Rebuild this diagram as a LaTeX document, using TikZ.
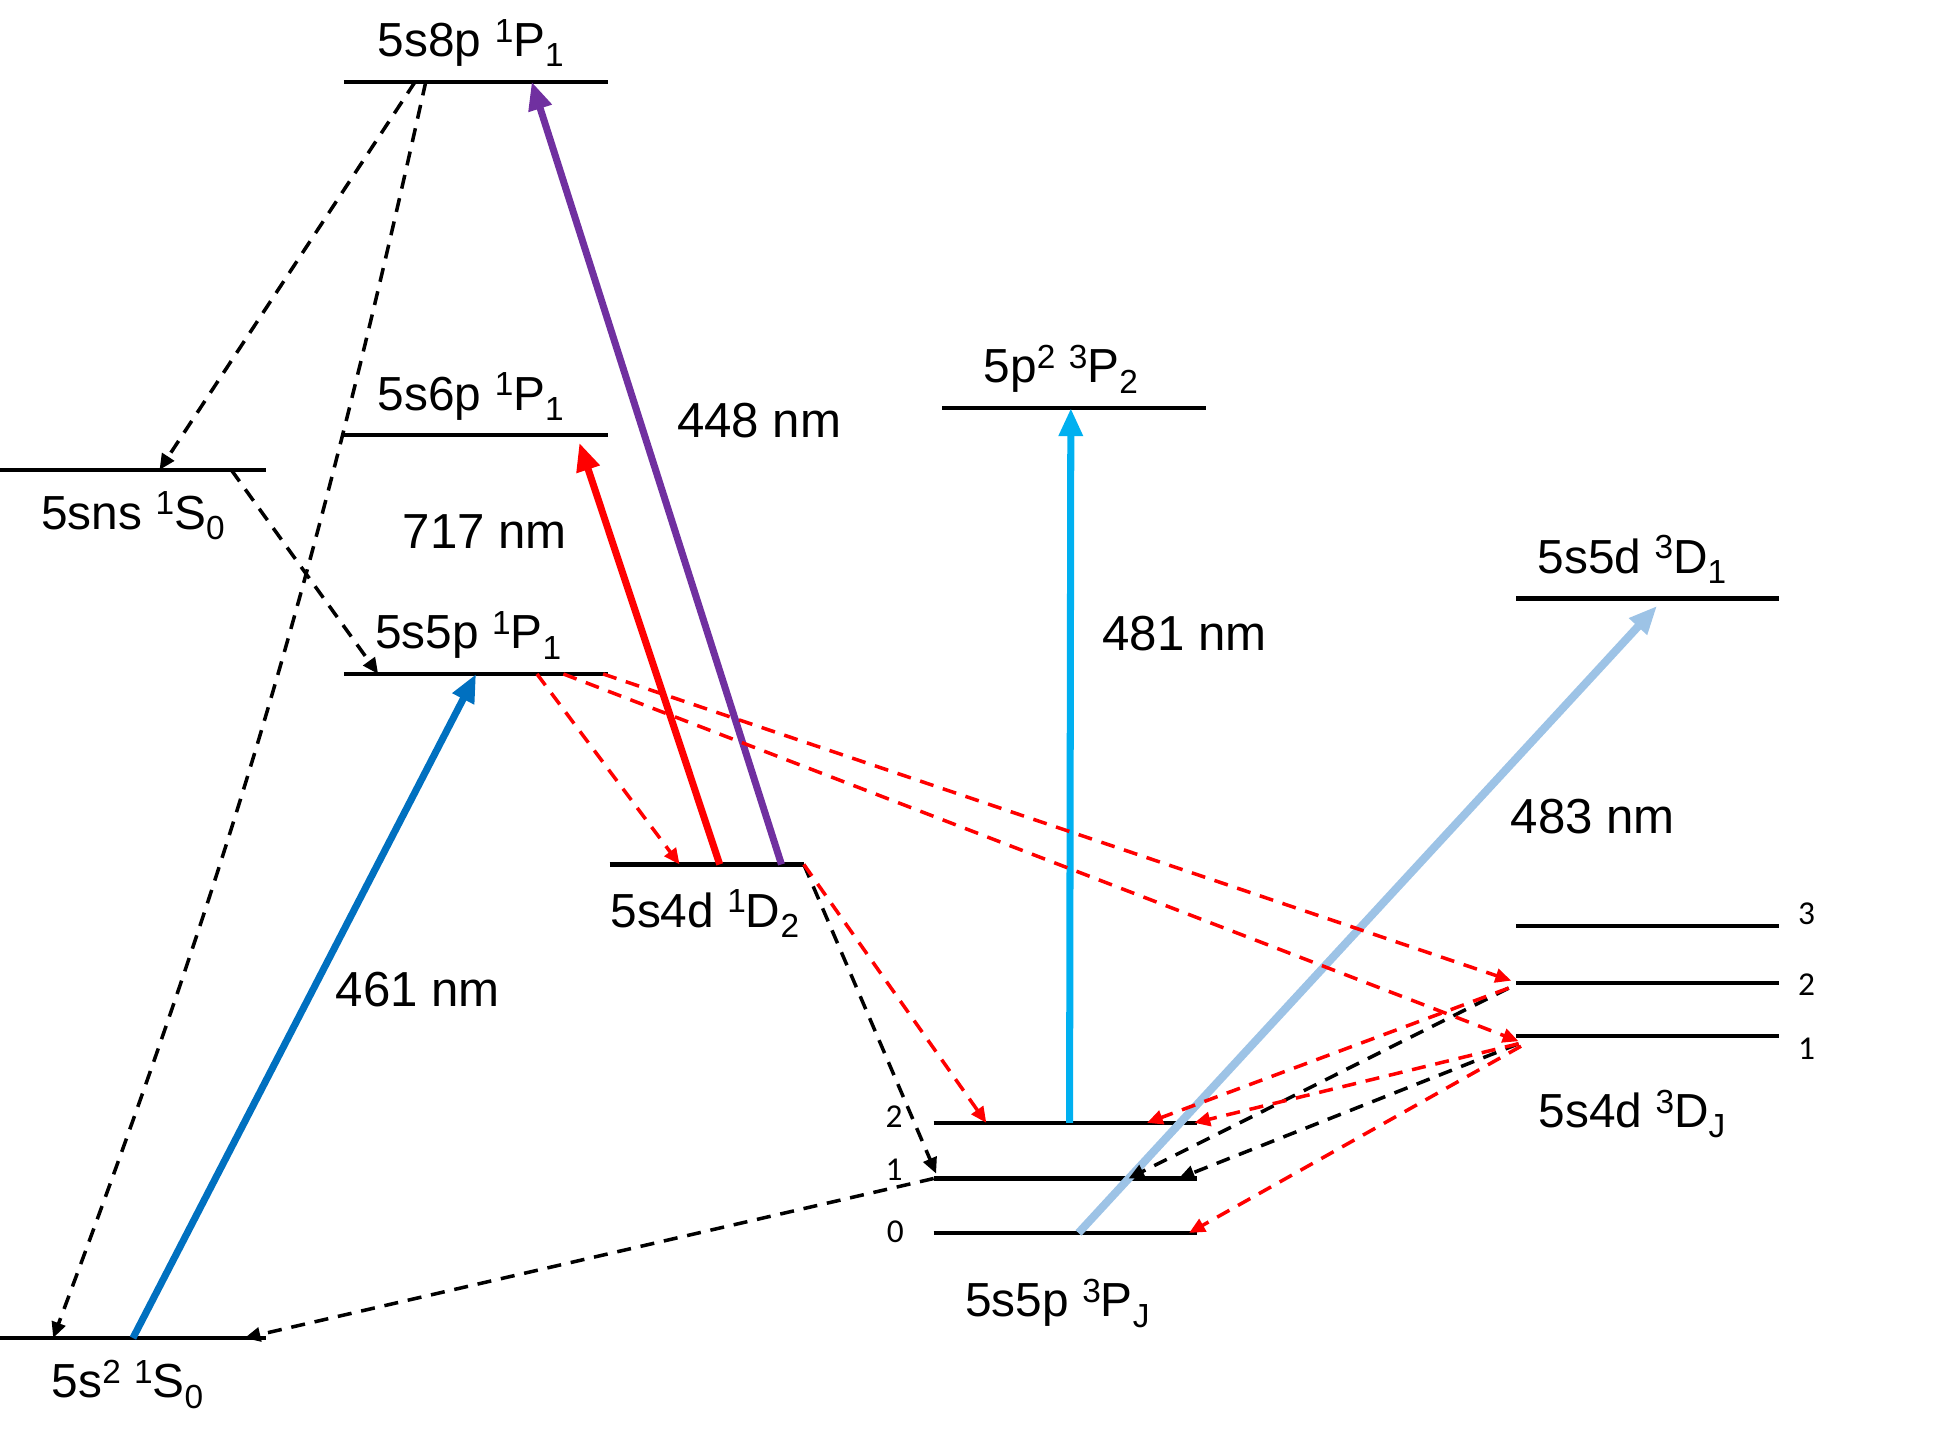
\documentclass[tikz,border=0pt]{standalone}
\usepackage{fontspec}
\setmainfont{Liberation Sans}
\newfontfamily\jfont{Carlito}
\usetikzlibrary{arrows.meta,calc}

\definecolor{c461}{RGB}{0,112,192}
\definecolor{c717}{RGB}{255,0,0}
\definecolor{c448}{RGB}{112,48,160}
\definecolor{c481}{RGB}{0,176,240}
\definecolor{c483}{RGB}{157,195,230}

\newcommand{\ssup}[1]{\raisebox{0.3em}{\fontsize{9.5}{10}\selectfont #1}}
\newcommand{\ssub}[1]{\raisebox{-0.22em}{\fontsize{9.5}{10}\selectfont #1}}

\tikzset{
  level/.style={line width=1.2pt},
  laser/.style={line width=2pt, -{Triangle[length=8pt,width=6.5pt]}},
  decay/.style={line width=1pt, dash pattern=on 4pt off 2.8pt, -{Triangle[length=4.5pt,width=4pt]}},
  lbl/.style={font=\fontsize{13.6}{16}\selectfont, inner sep=1pt},
  wl/.style={font=\fontsize{14}{16}\selectfont},
  jnum/.style={font=\jfont\fontsize{9.5}{11}\selectfont, inner sep=0pt},
}

\begin{document}
\begin{tikzpicture}[x=0.12366mm, y=-0.12366mm]
\useasboundingbox (0,0) rectangle (1568,1160);

% levels
\coordinate (gs-l) at (0,1082);   \coordinate (gs-r) at (215,1082);
\coordinate (ns-l) at (0,380);    \coordinate (ns-r) at (215,380);
\coordinate (p5-l) at (278,545);  \coordinate (p5-r) at (492,545);
\coordinate (p6-l) at (278,352);  \coordinate (p6-r) at (492,352);
\coordinate (p8-l) at (278,66);   \coordinate (p8-r) at (492,66);
\coordinate (d1-l) at (493,699);  \coordinate (d1-r) at (650,699);
\coordinate (pp-l) at (762,330);  \coordinate (pp-r) at (975,330);
\coordinate (t2-l) at (755,908);  \coordinate (t2-r) at (968,908);
\coordinate (t1-l) at (755,953);  \coordinate (t1-r) at (968,953);
\coordinate (t0-l) at (755,997);  \coordinate (t0-r) at (968,997);
\coordinate (dd-l) at (1226,484); \coordinate (dd-r) at (1439,484);
\coordinate (D3-l) at (1226,749); \coordinate (D3-r) at (1439,749);
\coordinate (D2-l) at (1226,795); \coordinate (D2-r) at (1439,795);
\coordinate (D1-l) at (1226,838); \coordinate (D1-r) at (1439,838);

\foreach \a in {gs,ns,p5,p6,p8,d1,pp,t2,t1,t0,dd,D3,D2,D1}
  \draw[level] (\a-l) -- (\a-r);

% level names
\node[lbl, above=3pt] (l8p) at ($(p8-l)!0.48!(p8-r)$) {5s8p \ssup{1}P\ssub{1}};
\node[lbl, above=3pt] (l6p) at ($(p6-l)!0.48!(p6-r)$) {5s6p \ssup{1}P\ssub{1}};
\node[lbl, above=3pt] (l5p) at ($(p5-l)!0.47!(p5-r)$) {5s5p \ssup{1}P\ssub{1}};
\node[lbl, below=5pt] (lns) at ($(ns-l)!0.5!(ns-r)$) {5sns \ssup{1}S\ssub{0}};
\node[lbl, below=5pt] (lgs) at ($(gs-l)!0.48!(gs-r)$) {5s\ssup{2} \ssup{1}S\ssub{0}};
\node[lbl, below=6pt] (l1d) at ($(d1-l)!0.49!(d1-r)$) {5s4d \ssup{1}D\ssub{2}};
\node[lbl, above=3pt] (lpp) at ($(pp-l)!0.45!(pp-r)$) {5p\ssup{2} \ssup{3}P\ssub{2}};
\node[lbl, above=3pt] (ldd) at ($(dd-l)!0.44!(dd-r)$) {5s5d \ssup{3}D\ssub{1}};
\node[lbl, below=14pt] (l3d) at ($(D1-l)!0.44!(D1-r)$) {5s4d \ssup{3}D\ssub{J}};
\node[lbl, below=12pt] (l3p) at ($(t0-l)!0.47!(t0-r)$) {5s5p \ssup{3}P\ssub{J}};

% J values
\node[jnum] (j3) at ($(D3-r)+(22,-10)$) {3};
\node[jnum] (j2) at ($(D2-r)+(22,1)$) {2};
\node[jnum] (j1) at ($(D1-r)+(22,10)$) {1};
\node[jnum] (k2) at ($(t2-l)+(-32,-5)$) {2};
\node[jnum] (k1) at ($(t1-l)+(-32,-7)$) {1};
\node[jnum] (k0) at ($(t0-l)+(-31,-1)$) {0};

% lasers
\draw[laser, c461] ($(gs-l)!0.50!(gs-r)$) -- ($(p5-l)!0.5!(p5-r)$);
\draw[laser, c717] ($(d1-l)!0.567!(d1-r)$) -- ($(p6-l)!0.89!(p6-r)+(0,6)$);
\draw[laser, c448] ($(d1-l)!0.885!(d1-r)$) -- ($(p8-l)!0.71!(p8-r)$);
\draw[laser, c481] ($(t2-l)!0.516!(t2-r)$) -- ($(pp-l)!0.488!(pp-r)$);
\draw[laser, c483, line width=2.3pt] ($(t0-l)!0.55!(t0-r)$) -- ($(dd-l)!0.535!(dd-r)+(0,6)$);

\node[wl] (w461) at (338,800) {461 nm};
\node[wl] (w717) at (392,430) {717 nm};
\node[wl] (w448) at (614,340) {448 nm};
\node[wl] (w481) at (958,512) {481 nm};
\node[wl] (w483) at (1288,660) {483 nm};

% decays
\draw[decay] ($(p8-l)!0.27!(p8-r)$) -- ($(ns-l)!0.6!(ns-r)$);
\draw[decay] ($(p8-l)!0.31!(p8-r)$) to[bend left=4] ($(gs-l)!0.2!(gs-r)$);
\draw[decay] ($(ns-l)!0.87!(ns-r)$) -- ($(p5-l)!0.13!(p5-r)$);
\draw[decay] (d1-r) -- ($(t1-l)+(2,-4)$);
\draw[decay] (t1-l) -- ($(gs-l)!0.92!(gs-r)$);
\draw[decay] ($(D2-l)+(-6,4)$) -- ($(t1-l)!0.74!(t1-r)$);
\draw[decay] ($(D1-l)+(2,6)$) -- ($(t1-l)!0.93!(t1-r)$);

\draw[decay, red] ($(p5-l)!0.73!(p5-r)$) -- ($(d1-l)!0.36!(d1-r)$);
\draw[decay, red] ($(p5-l)!0.98!(p5-r)$) -- ($(D2-l)+(-4,-2)$);
\draw[decay, red] ($(p5-l)!0.83!(p5-r)$) -- ($(D1-l)+(2,4)$);
\draw[decay, red] (d1-r) -- ($(t2-l)!0.2!(t2-r)$);
\draw[decay, red] ($(D2-l)+(-6,4)$) -- ($(t2-l)!0.81!(t2-r)$);
\draw[decay, red] ($(D1-l)+(2,6)$) -- ($(t2-l)!0.99!(t2-r)$);
\draw[decay, red] ($(D1-l)+(4,8)$) -- ($(t0-l)!0.97!(t0-r)$);
\end{tikzpicture}
\end{document}
